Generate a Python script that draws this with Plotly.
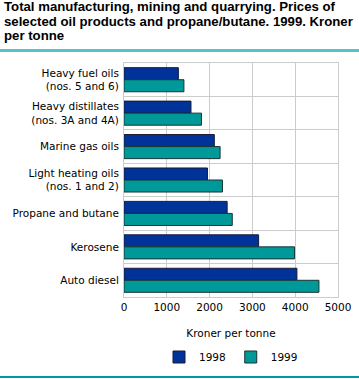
import plotly.graph_objects as go

categories = [
    "Heavy fuel oils<br>(nos. 5 and 6)",
    "Heavy distillates<br>(nos. 3A and 4A)",
    "Marine gas oils",
    "Light heating oils<br>(nos. 1 and 2)",
    "Propane and butane",
    "Kerosene",
    "Auto diesel",
]
values_1998 = [1270, 1565, 2110, 1950, 2410, 3145, 4040]
values_1999 = [1400, 1810, 2245, 2300, 2530, 3985, 4555]
x_ticks = [0, 1000, 2000, 3000, 4000, 5000]
title_lines = [
    "Total manufacturing, mining and quarrying. Prices of",
    "selected oil products and propane/butane. 1999. Kroner",
    "per tonne",
]

font_family = "DejaVu Sans"
W, H = 359, 379
ML, MR, MT, MB = 124, 21, 63, 82
PW, PH = W - ML - MR, H - MT - MB

fig = go.Figure()
fig.add_trace(go.Bar(
    y=categories, x=values_1998, name="1998", orientation="h",
    marker=dict(color="#003399", line=dict(color="#1a1a33", width=1)),
))
fig.add_trace(go.Bar(
    y=categories, x=values_1999, name="1999", orientation="h",
    marker=dict(color="#009999", line=dict(color="#1a3333", width=1)),
))

title_annotations = []
for i, line in enumerate(title_lines):
    y_px = 7 + 14.5 * i
    title_annotations.append(dict(
        text="<b>" + line + "</b>", xref="paper", yref="paper",
        x=-(ML - 2) / PW, y=1 + (MT - y_px) / PH, xanchor="left", yanchor="middle",
        align="left", showarrow=False,
        font=dict(family="Liberation Sans", size=13.2, color="#000000"),
    ))

fig.update_layout(
    width=W, height=H,
    margin=dict(l=ML, r=MR, t=MT, b=MB, autoexpand=False),
    paper_bgcolor="white", plot_bgcolor="white",
    barmode="group", bargap=0.28, bargroupgap=0,
    font=dict(family=font_family, size=10.5, color="#000000"),
    xaxis=dict(
        range=[0, 5000], tickvals=x_ticks, showgrid=True, gridcolor="#cccccc",
        gridwidth=1, zeroline=False, showline=True, linecolor="#cccccc", mirror=True,
        ticks="", tickfont=dict(size=10.5), automargin=False,
        title=dict(text="Kroner per tonne", font=dict(size=10.5), standoff=18),
        fixedrange=True,
    ),
    yaxis=dict(
        type="category", autorange="reversed", tickson="boundaries",
        showgrid=True, gridcolor="#cccccc", gridwidth=1, showline=True,
        linecolor="#cccccc", mirror=True, ticks="", tickfont=dict(size=10.5),
        ticklabelstandoff=2, automargin=False, fixedrange=True,
    ),
    legend=dict(
        orientation="h", x=0.5, xanchor="center",
        yref="container", y=1 - 357 / H, yanchor="middle",
        font=dict(size=10.5), traceorder="normal",
    ),
    annotations=title_annotations,
    shapes=[
        dict(type="rect", xref="paper", yref="paper", x0=-ML / PW, x1=1 + MR / PW,
             y0=1 + 11.5 / PH, y1=1 + 13.5 / PH, layer="above",
             fillcolor="#55c4c4", line=dict(color="#55c4c4", width=1)),
        dict(type="line", xref="paper", yref="paper", x0=-ML / PW, x1=1 + MR / PW,
             y0=-(MB - 2) / PH, y1=-(MB - 2) / PH, layer="above",
             line=dict(color="#009999", width=2)),
    ],
)

fig.write_html(
    "out.html",
    config={"displayModeBar": False},
    post_script="document.body.style.margin='0';",
)
